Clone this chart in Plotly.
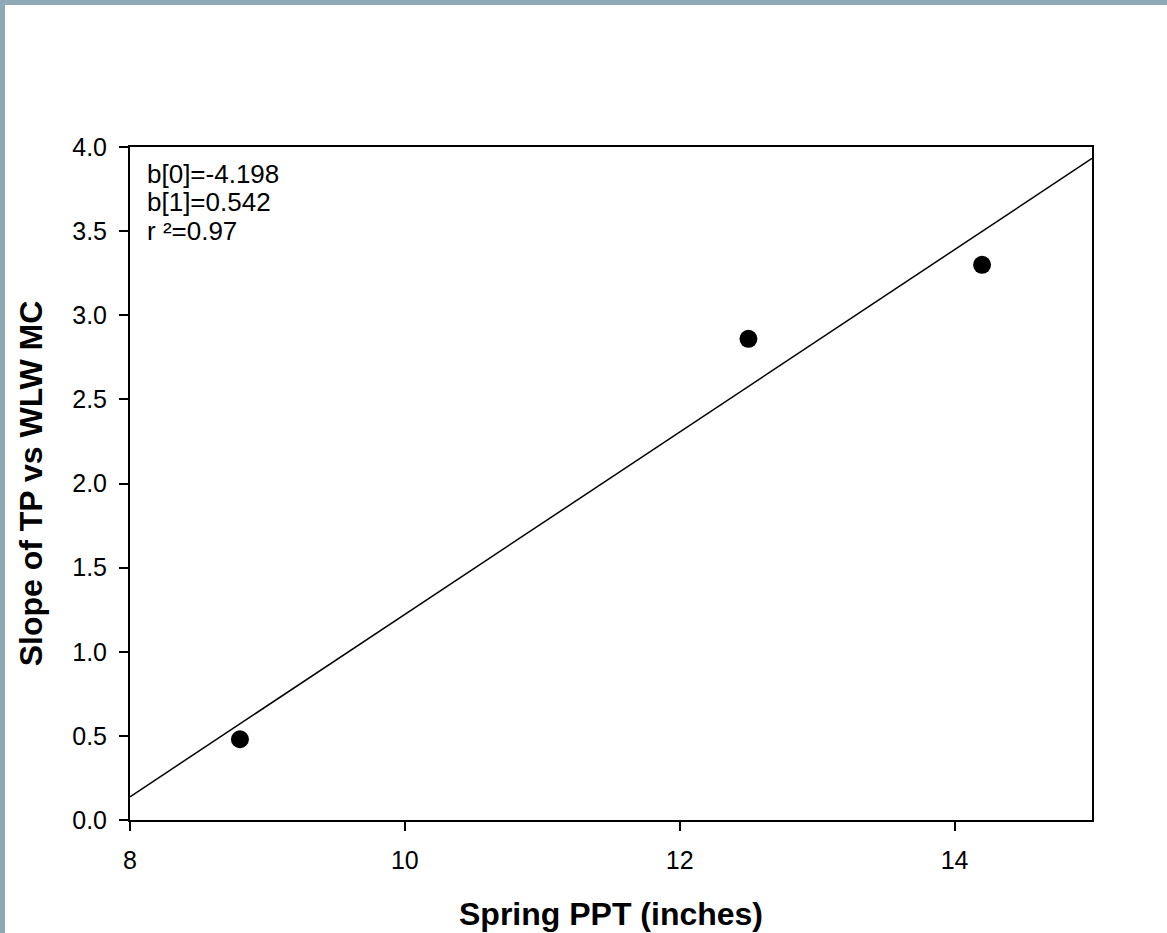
import plotly.graph_objects as go
import numpy as np

# Data
spring_ppt = [8.8, 12.5, 14.2]
slope_tp = [0.48, 2.86, 3.30]
b0 = -4.198
b1 = 0.542
r2 = 0.97
x_range = [8, 15]
y_range = [0, 4]
x_ticks = [8, 10, 12, 14]
y_ticks = [0.0, 0.5, 1.0, 1.5, 2.0, 2.5, 3.0, 3.5, 4.0]
stat_lines = [f"b[0]={b0}", f"b[1]={b1}", f"r \u00b2={r2}"]

W, H = 1167, 933
L, R, T, B = 130, 75, 147, 113
pw, ph = W - L - R, H - T - B

fit_x = np.array(x_range, dtype=float)
fit_y = b0 + b1 * fit_x

fig = go.Figure()
fig.add_trace(go.Scatter(x=fit_x, y=fit_y, mode="lines",
                         line=dict(color="black", width=1.5), showlegend=False))
fig.add_trace(go.Scatter(x=spring_ppt, y=slope_tp, mode="markers",
                         marker=dict(color="black", size=18), showlegend=False))

font = "Liberation Sans, Arial, sans-serif"

def px2x(p):
    return (p - L) / pw

def px2y(p):
    return (H - B - p) / ph

border_col = "#8fa8b6"
shapes = [
    dict(type="rect", xref="paper", yref="paper", x0=px2x(0), x1=px2x(W), y0=px2y(5), y1=px2y(0),
         fillcolor=border_col, line=dict(width=0), layer="below"),
    dict(type="rect", xref="paper", yref="paper", x0=px2x(0), x1=px2x(5), y0=px2y(H), y1=px2y(0),
         fillcolor=border_col, line=dict(width=0), layer="below"),
]

annotations = [
    dict(xref="paper", yref="paper", x=px2x(145), y=px2y(174 + 28.3 * i), xanchor="left",
         yanchor="middle", align="left", showarrow=False, text=t, font=dict(size=26))
    for i, t in enumerate(stat_lines)
]

fig.update_layout(
    width=W, height=H,
    margin=dict(l=L, r=R, t=T, b=B, autoexpand=False),
    paper_bgcolor="white", plot_bgcolor="white",
    font=dict(family=font, color="black", size=24),
    shapes=shapes,
    xaxis=dict(range=x_range, tickvals=x_ticks, ticks="outside", ticklen=9, tickwidth=1.5,
               tickcolor="black", showline=True, linecolor="black", linewidth=2, mirror=True,
               showgrid=False, zeroline=False, tickfont=dict(size=25), ticklabelstandoff=8,
               automargin=False,
               title=dict(text="<b>Spring PPT (inches)</b>", font=dict(size=32), standoff=30)),
    yaxis=dict(range=y_range, tickvals=y_ticks, tickformat=".1f", ticks="outside", ticklen=9,
               tickwidth=1.5, tickcolor="black", showline=True, linecolor="black", linewidth=2,
               mirror=True, showgrid=False, zeroline=False, tickfont=dict(size=25),
               ticklabelstandoff=7, automargin=False,
               title=dict(text="<b>Slope of TP vs WLW MC</b>", font=dict(size=32), standoff=20)),
    annotations=annotations,
)

fig.write_html("out.html", config={"displayModeBar": False},
               post_script="document.body.style.margin='0';")
